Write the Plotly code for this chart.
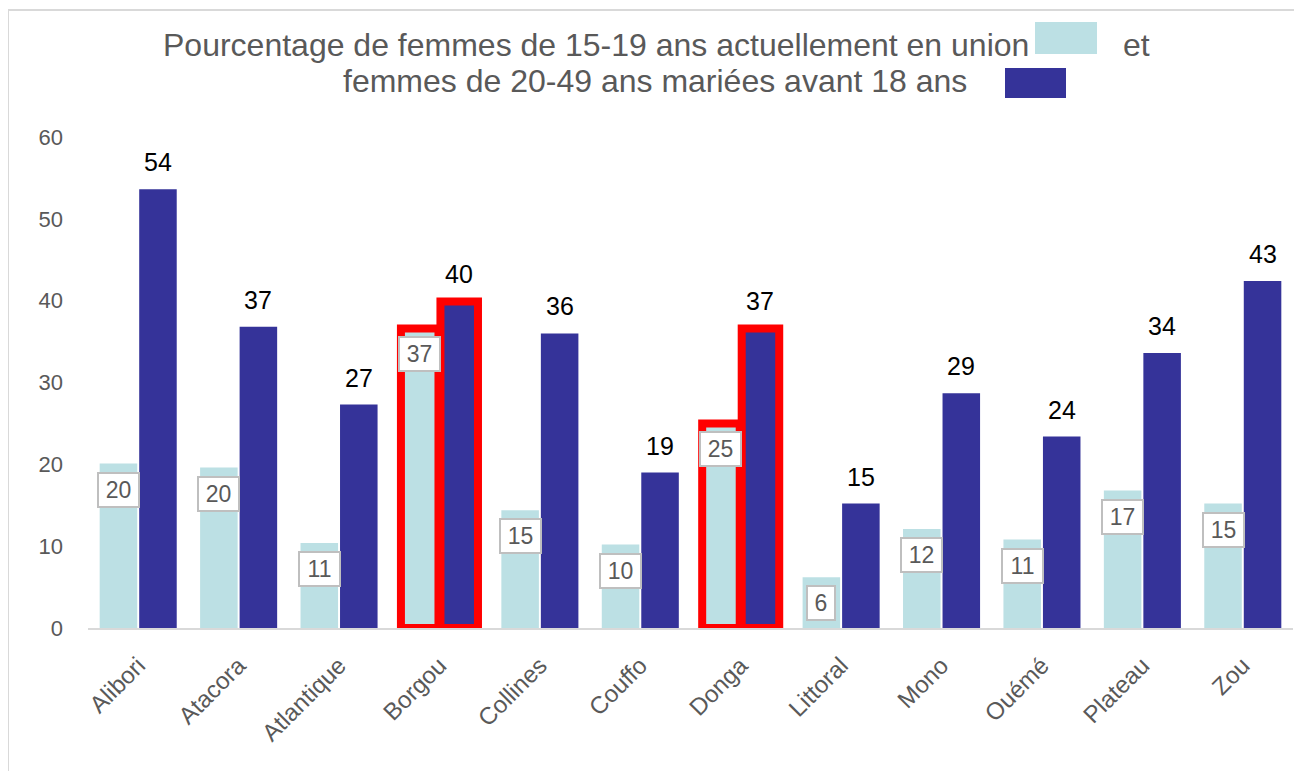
import plotly.graph_objects as go

# Benin departements
regions = ["Alibori", "Atacora", "Atlantique", "Borgou", "Collines", "Couffo",
           "Donga", "Littoral", "Mono", "Ouémé", "Plateau", "Zou"]

# % of women aged 15-19 currently in union
union_15_19 = [20.1, 19.6, 10.4, 36.6, 14.4, 10.2, 25.0, 6.2, 12.1, 10.8, 16.8, 15.2]
union_15_19_labels = ["20", "20", "11", "37", "15", "10", "25", "6", "12", "11", "17", "15"]

# % of women aged 20-49 married before 18
married_before_18 = [53.6, 36.8, 27.3, 39.9, 36.0, 19.0, 36.6, 15.2, 28.7, 23.4, 33.6, 42.4]
married_before_18_labels = ["54", "37", "27", "40", "36", "19", "37", "15", "29", "24", "34", "43"]

# departements outlined in red
highlighted = ["Borgou", "Donga"]

y_ticks = [0, 10, 20, 30, 40, 50, 60]

title_line_1 = "Pourcentage de femmes de 15-19 ans actuellement en union"
title_and = "et"
title_line_2 = "femmes de 20-49 ans mariées avant 18 ans"

light_colour = "#bce0e4"
dark_colour = "#353399"
grey_text = "#595959"

# the page body has an 8px margin, so the figure is drawn 8px smaller and
# everything below is given in window pixels
page_margin = 8
fig_width, fig_height = 1302 - page_margin, 771 - page_margin

# plot area in window pixels
plot_left, plot_right, plot_top, plot_bottom = 88, 1293, 137, 628


def px(x):
    # window pixel x -> paper x
    return (x - plot_left) / (plot_right - plot_left)


def py(y):
    # window pixel y -> paper y
    return (plot_bottom - y) / (plot_bottom - plot_top)


outline_width = [8 if r in highlighted else 0 for r in regions]

fig = go.Figure()

fig.add_trace(go.Bar(
    x=regions,
    y=union_15_19,
    name=title_line_1,
    marker=dict(color=light_colour,
                line=dict(color=["red" if r in highlighted else light_colour for r in regions],
                          width=outline_width)),
    hoverinfo="x+y"
))

fig.add_trace(go.Bar(
    x=regions,
    y=married_before_18,
    name=title_line_2,
    marker=dict(color=dark_colour,
                line=dict(color=["red" if r in highlighted else dark_colour for r in regions],
                          width=outline_width)),
    hoverinfo="x+y"
))

half_bar = 19.75  # pixel offset of each bar from the category centre

# boxed labels on the light bars, plain labels above the dark bars
for i in range(len(regions)):
    fig.add_annotation(
        x=regions[i], y=union_15_19[i],
        text=union_15_19_labels[i],
        showarrow=False,
        xshift=-half_bar, yshift=-26,
        yanchor="middle",
        font=dict(size=23, color=grey_text),
        bgcolor="white",
        bordercolor="#bfbfbf",
        borderwidth=2,
        borderpad=3,
        width=13 * len(union_15_19_labels[i]) + 7
    )
    fig.add_annotation(
        x=regions[i], y=married_before_18[i],
        text=married_before_18_labels[i],
        showarrow=False,
        xshift=half_bar, yshift=11,
        yanchor="bottom",
        font=dict(size=25, color="black")
    )

# title, with little colour squares acting as the legend
fig.add_annotation(
    xref="paper", yref="paper", x=px(1031), y=py(45),
    text=title_line_1, showarrow=False,
    xanchor="right", yanchor="middle",
    font=dict(size=32, color=grey_text)
)
fig.add_annotation(
    xref="paper", yref="paper", x=px(1121), y=py(45),
    text=title_and, showarrow=False,
    xanchor="left", yanchor="middle",
    font=dict(size=32, color=grey_text)
)
fig.add_annotation(
    xref="paper", yref="paper", x=px(969), y=py(81),
    text=title_line_2, showarrow=False,
    xanchor="right", yanchor="middle",
    font=dict(size=32, color=grey_text)
)
fig.add_shape(type="rect", xref="paper", yref="paper",
              x0=px(1035), x1=px(1097), y0=py(54), y1=py(22),
              fillcolor=light_colour, line=dict(width=0))
fig.add_shape(type="rect", xref="paper", yref="paper",
              x0=px(1005), x1=px(1066), y0=py(98), y1=py(68),
              fillcolor=dark_colour, line=dict(width=0))

# light grey frame round the chart (right and bottom edges fall off the picture)
fig.add_shape(type="rect", xref="paper", yref="paper",
              x0=px(8), x1=px(1320), y0=py(800), y1=py(10),
              line=dict(color="#d9d9d9", width=2), layer="below")

fig.update_layout(
    width=fig_width, height=fig_height,
    margin=dict(l=plot_left - page_margin, r=1302 - plot_right,
                t=plot_top - page_margin, b=771 - plot_bottom),
    paper_bgcolor="white",
    plot_bgcolor="white",
    font=dict(family="Liberation Sans, Arial, sans-serif", color=grey_text),
    barmode="group",
    bargap=0.213,
    bargroupgap=0.05,
    showlegend=False,
    xaxis=dict(
        showline=True, linecolor="#d9d9d9", linewidth=2,
        showgrid=False, ticks="",
        tickangle=-45,
        ticklabelstandoff=12,
        tickfont=dict(size=24, color=grey_text)
    ),
    yaxis=dict(
        range=[0, 60],
        tickvals=y_ticks,
        showgrid=False, zeroline=False, showline=False,
        ticklabelstandoff=24,
        tickfont=dict(size=22, color=grey_text)
    )
)

fig.write_html("out.html")
